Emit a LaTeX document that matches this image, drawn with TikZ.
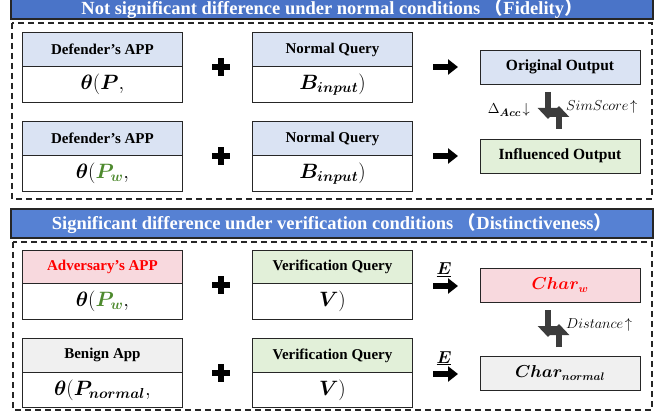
\documentclass[tikz,border=0pt]{standalone}
\usepackage{fontspec}
\setmainfont{Liberation Serif}
\newfontfamily\cjk{Noto Sans CJK SC}
\usepackage{bm}
\usetikzlibrary{arrows.meta}
\definecolor{barblue}{HTML}{4A74C8}
\definecolor{barbluetwo}{HTML}{5681D3}
\definecolor{hblue}{HTML}{DAE3F3}
\definecolor{hgreen}{HTML}{E2F0D9}
\definecolor{hpink}{HTML}{F8D9DE}
\definecolor{hgray}{HTML}{F0F0F0}
\definecolor{pgreen}{HTML}{4E8A2E}
\definecolor{arrgray}{HTML}{3C3C3C}
\definecolor{edge}{HTML}{262626}
\tikzset{
  hdr/.style={draw=edge, line width=0.9pt, minimum width=160pt, minimum height=34pt, inner sep=0pt, anchor=north west, font=\bfseries\fontsize{15}{15}\selectfont},
  bodybox/.style={draw=edge, line width=0.9pt, fill=white, minimum width=160pt, minimum height=36pt, inner sep=0pt, anchor=north west, font=\fontsize{20}{20}\selectfont},
  outbox/.style={draw=edge, line width=0.9pt, minimum width=160pt, minimum height=34pt, inner sep=0pt, font=\bfseries\fontsize{15.5}{15.5}\selectfont},
  bar/.style={draw=edge, line width=1.2pt},
  dashbox/.style={draw=edge, line width=1.1pt, dash pattern=on 6pt off 4pt},
  blockarrow/.style={line width=6pt, -{Triangle[length=10pt,width=15pt]}},
  cmparrow/.style={draw=arrgray, line width=5.5pt, -{Triangle[length=11pt,width=20pt]}},
  titletext/.style={text=white, font=\bfseries\fontsize{18.5}{18.5}\selectfont, anchor=base, inner sep=0pt},
  elabel/.style={anchor=base, inner sep=0pt, font=\fontsize{17}{17}\selectfont},
  sidelabel/.style={inner sep=0pt, font=\fontsize{15.5}{15.5}\selectfont},
  plussign/.pic={\fill (-9,-3.2) rectangle (9,3.2); \fill (-3.2,-9) rectangle (3.2,9);}
}
\begin{document}
\begin{tikzpicture}[x=1pt,y=-1pt]
\useasboundingbox (0,0) rectangle (663,419);
\fill[white] (0,0) rectangle (663,419);

% ---------- section 1 ----------
\draw[bar, fill=barblue] (11,-10) rectangle (653,19);
\node[titletext] (t1) at (332,15) {Not significant difference under normal conditions {\cjk （}Fidelity{\cjk ）}};
\draw[dashbox] (12,23) rectangle (652,199);

\node[hdr, fill=hblue] (h1) at (22,32) {Defender’s APP};
\node[bodybox] (b1) at (22,66) {$\bm{\theta}(\bm{P},$};
\node[hdr, fill=hblue] (h2) at (252,32) {Normal Query};
\node[bodybox] (c1) at (252,66) {$\bm{B}_{\bm{input}})$};
\pic at (221,67) {plussign};
\coordinate (a1s) at (433,67); \coordinate (a1e) at (458,67);
\draw[blockarrow] (a1s) -- (a1e);
\node[outbox, fill=hblue] (o1) at (560,67) {Original Output};

\node[hdr, fill=hblue] (h3) at (22,121) {Defender’s APP};
\node[bodybox] (b2) at (22,155) {$\bm{\theta}(\textcolor{pgreen}{\bm{P}_{\bm{w}}},$};
\node[hdr, fill=hblue] (h4) at (252,121) {Normal Query};
\node[bodybox] (c2) at (252,155) {$\bm{B}_{\bm{input}})$};
\pic at (221,156) {plussign};
\coordinate (a2s) at (433,156); \coordinate (a2e) at (458,156);
\draw[blockarrow] (a2s) -- (a2e);
\node[outbox, fill=hgreen] (o2) at (560,156) {Influenced Output};

\coordinate (d1s) at (548,92); \coordinate (d1e) at (548,119);
\coordinate (u1s) at (559,129); \coordinate (u1e) at (559,106);
\draw[cmparrow] (d1s) -- (d1e);
\draw[cmparrow] (u1s) -- (u1e);
\node[sidelabel, anchor=east] (acc) at (530,110) {$\Delta_{\bm{Acc}}\!\downarrow$};
\node[sidelabel, anchor=west] (sim) at (566,107) {$SimScore\!\uparrow$};

% ---------- section 2 ----------
\draw[bar, fill=barbluetwo] (11,209) rectangle (653,238);
\node[titletext] (t2) at (332,230) {Significant difference under verification conditions {\cjk （}Distinctiveness{\cjk ）}};
\draw[dashbox] (13,242) rectangle (652,410);

\node[hdr, fill=hpink, text=red, minimum height=33pt] (h5) at (22,250) {Adversary’s APP};
\node[bodybox] (b3) at (22,283) {$\bm{\theta}(\textcolor{pgreen}{\bm{P}_{\bm{w}}},$};
\node[hdr, fill=hgreen, minimum height=33pt] (h6) at (252,250) {Verification Query};
\node[bodybox] (c3) at (252,283) {$\bm{V})$};
\pic at (221,285) {plussign};
\coordinate (a3s) at (433,286); \coordinate (a3e) at (458,286);
\draw[blockarrow] (a3s) -- (a3e);
\node[elabel] (e3) at (444,275) {$\underline{\bm{E}}$};
\node[outbox, fill=hpink, font=\fontsize{16}{16}\selectfont] (o3) at (560,285) {\textcolor{red}{$\bm{Char}_{\bm{w}}$}};

\node[hdr, fill=hgray] (h7) at (22,338) {Benign App};
\node[bodybox, minimum height=35pt] (b4) at (22,372) {$\bm{\theta}(\bm{P}_{\bm{normal}},$};
\node[hdr, fill=hgreen] (h8) at (252,338) {Verification Query};
\node[bodybox, minimum height=35pt] (c4) at (252,372) {$\bm{V})$};
\pic at (221,373) {plussign};
\coordinate (a4s) at (433,374); \coordinate (a4e) at (458,374);
\draw[blockarrow] (a4s) -- (a4e);
\node[elabel] (e4) at (444,363) {$\underline{\bm{E}}$};
\node[outbox, fill=hgray, font=\fontsize{16}{16}\selectfont] (o4) at (560,373) {$\bm{Char}_{\bm{normal}}$};

\coordinate (d2s) at (548,310); \coordinate (d2e) at (548,337);
\coordinate (u2s) at (559,347); \coordinate (u2e) at (559,324);
\draw[cmparrow] (d2s) -- (d2e);
\draw[cmparrow] (u2s) -- (u2e);
\node[sidelabel, anchor=west] (dist) at (566,325) {$Distance\!\uparrow$};
\end{tikzpicture}
\end{document}
